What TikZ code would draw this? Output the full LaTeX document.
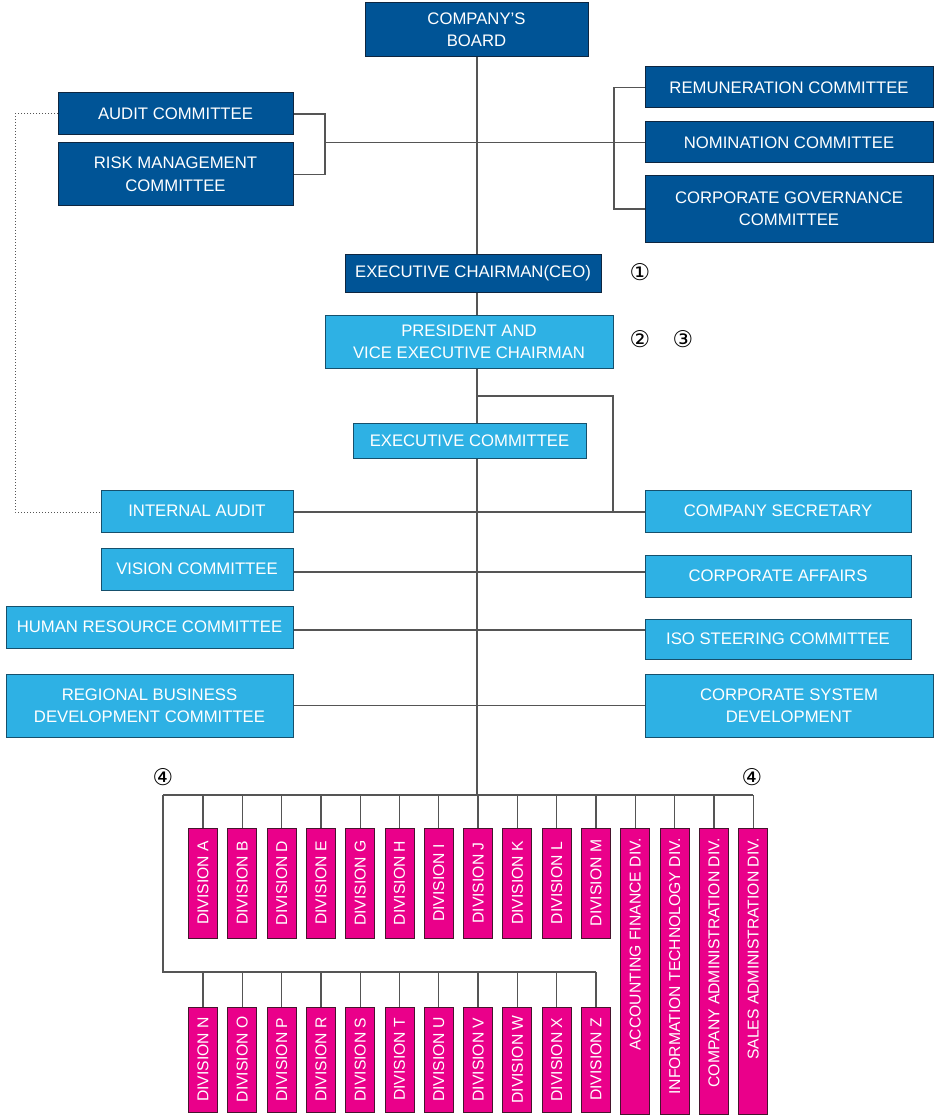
\documentclass[tikz,border=0pt]{standalone}
\usepackage{fontspec}
\setmainfont{Liberation Sans}
\newfontfamily\symfont{DejaVu Sans}
\usetikzlibrary{backgrounds,calc}
\definecolor{dblue}{RGB}{0,84,150}
\definecolor{lblue}{RGB}{46,177,228}
\definecolor{mag}{RGB}{234,0,138}
\definecolor{dborder}{RGB}{14,38,64}
\definecolor{lborder}{RGB}{22,80,108}
\definecolor{mborder}{RGB}{70,20,45}
\definecolor{linec}{RGB}{85,85,85}
\tikzset{
  box/.style={rectangle, anchor=north west, inner sep=0pt, outer sep=0pt, line width=1pt, text=white, align=center, font=\fontsize{16.7}{22.5}\selectfont},
  dbox/.style={box, fill=dblue, draw=dborder},
  lbox/.style={box, fill=lblue, draw=lborder},
  divbox/.style={rectangle, anchor=north, inner sep=0pt, outer sep=0pt, line width=1pt, fill=mag, draw=mborder, minimum width=29pt},
  divtext/.style={rotate=90, text=white, inner sep=0pt, font=\fontsize{15.7}{18}\selectfont},
  conn/.style={draw=linec, line width=1.3pt},
  num/.style={inner sep=0pt, font=\symfont\fontsize{23}{24}\selectfont},
}
\begin{document}
\begin{tikzpicture}[x=1pt,y=-1pt]
\useasboundingbox (0,0) rectangle (934,1115);
% boxes
\node[dbox, minimum width=223pt, minimum height=54pt] (board) at (365,3) {COMPANY’S\\BOARD};
\node[dbox, minimum width=235pt, minimum height=42pt] (audit) at (58,93) {AUDIT COMMITTEE};
\node[dbox, minimum width=235pt, minimum height=63pt] (risk) at (58,143) {RISK MANAGEMENT\\COMMITTEE};
\node[dbox, minimum width=288pt, minimum height=41pt] (rem) at (645,67) {REMUNERATION COMMITTEE};
\node[dbox, minimum width=288pt, minimum height=41pt] (nom) at (645,122) {NOMINATION COMMITTEE};
\node[dbox, minimum width=288pt, minimum height=66pt] (cg) at (645,176) {CORPORATE GOVERNANCE\\COMMITTEE};
\node[dbox, minimum width=256pt, minimum height=38pt] (ceo) at (345,254) {EXECUTIVE CHAIRMAN(CEO)};
\node[lbox, minimum width=288pt, minimum height=53pt] (pres) at (325,315) {PRESIDENT AND\\VICE EXECUTIVE CHAIRMAN};
\node[lbox, minimum width=233pt, minimum height=35pt] (exec) at (353,423) {EXECUTIVE COMMITTEE};
\node[lbox, minimum width=192pt, minimum height=42pt] (ia) at (101,490) {INTERNAL AUDIT};
\node[lbox, minimum width=266pt, minimum height=42pt] (sec) at (645,490) {COMPANY SECRETARY};
\node[lbox, minimum width=192pt, minimum height=42pt] (vis) at (101,548) {VISION COMMITTEE};
\node[lbox, minimum width=266pt, minimum height=42pt] (aff) at (645,555) {CORPORATE AFFAIRS};
\node[lbox, minimum width=287pt, minimum height=42pt] (hr) at (6,606) {HUMAN RESOURCE COMMITTEE};
\node[lbox, minimum width=266pt, minimum height=40pt] (iso) at (645,619) {ISO STEERING COMMITTEE};
\node[lbox, minimum width=287pt, minimum height=63pt] (reg) at (6,674) {REGIONAL BUSINESS\\DEVELOPMENT COMMITTEE};
\node[lbox, minimum width=288pt, minimum height=63pt] (csd) at (645,674) {CORPORATE SYSTEM\\DEVELOPMENT};
% circled numbers
\node[num] (n1) at (640,272) {①};
\node[num] (n2) at (640,339) {②};
\node[num] (n3) at (683,339) {③};
\node[num] (n4a) at (163,777) {④};
\node[num] (n4b) at (752,777) {④};
% division boxes
\def\colx#1{203+39.3*#1}
\foreach \name/\lab/\i in {dA/A/0,dB/B/1,dD/D/2,dE/E/3,dG/G/4,dH/H/5,dI/I/6,dJ/J/7,dK/K/8,dL/L/9,dM/M/10}{
  \node[divbox, minimum height=110pt] (\name) at ({\colx{\i}},828) {};
  \node[divtext] at (\name.center) {DIVISION \lab};
}
\foreach \name/\lab/\i in {dN/N/0,dO/O/1,dP/P/2,dR/R/3,dS/S/4,dT/T/5,dU/U/6,dV/V/7,dW/W/8,dX/X/9,dZ/Z/10}{
  \node[divbox, minimum height=105pt] (\name) at ({\colx{\i}},1007) {};
  \node[divtext] at (\name.center) {DIVISION \lab};
}
\foreach \name/\lab/\i in {acc/ACCOUNTING FINANCE DIV./11,it/INFORMATION TECHNOLOGY DIV./12,cad/COMPANY ADMINISTRATION DIV./13,sad/SALES ADMINISTRATION DIV./14}{
  \node[divbox, minimum height=286pt] (\name) at ({\colx{\i}},828) {};
  \node[divtext, anchor=east] at ($(\name.north)+(0,10)$) {\lab};
}
% connectors
\coordinate (tb) at (477,795);
\coordinate (cs) at (477,396);
\coordinate (lb) at (163,795);
\coordinate (rb) at (753,795);
\coordinate (lb2) at (163,972);
\begin{scope}[on background layer]
\draw[conn] (board.south -| tb) -- (tb);
\draw[conn] (audit.east) -- ++(32,0) coordinate (lbk) |- (risk.east);
\draw[conn] (lbk |- nom.west) -- (nom.west);
\draw[conn] (rem.west) -- ++(-31,0) |- (cg.west);
\draw[conn] (cs) -| ($(sec.west)+(-32,1)$) -- ($(sec.west)+(0,1)$);
\draw[conn] ($(ia.east)+(0,1)$) -- ($(sec.west)+(0,1)$);
\draw[conn] ($(vis.east)+(0,3)$) -- ($(vis.east -| aff.west)+(0,3)$);
\draw[conn] ($(hr.east)+(0,3)$) -- ($(hr.east -| iso.west)+(0,3)$);
\draw[conn] (reg.east) -- (csd.west);
\draw[draw=linec, line width=1pt, dotted] (audit.west) -| (15,512) -- ($(ia.west)+(0,1)$);
\draw[conn] (lb) -- (rb);
\foreach \n in {dA,dB,dD,dE,dG,dH,dI,dJ,dK,dL,dM,acc,it,cad,sad}{
  \draw[conn] (\n.north |- tb) -- (\n.north);
}
\draw[conn] (lb) -- (lb2) -- (lb2 -| dZ.north);
\foreach \n in {dN,dO,dP,dR,dS,dT,dU,dV,dW,dX,dZ}{
  \draw[conn] (\n.north |- lb2) -- (\n.north);
}
\end{scope}
\end{tikzpicture}
\end{document}
